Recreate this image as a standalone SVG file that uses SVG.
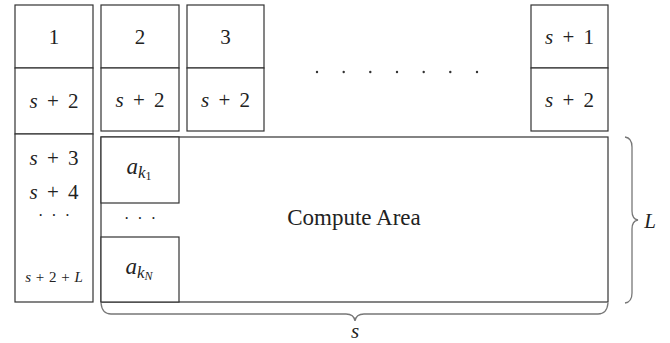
<svg xmlns="http://www.w3.org/2000/svg" width="670" height="343" viewBox="0 0 670 343">
<style>
.b{fill:#fff;stroke:#333;stroke-width:1.2}
text{font-family:"Liberation Serif","Times New Roman",serif;fill:#222}
.t{font-size:21px;text-anchor:middle;word-spacing:4px}
.i{font-style:italic}
.d{font-size:16px;text-anchor:middle;letter-spacing:2px}
.br{fill:none;stroke:#777;stroke-width:1.3}
</style>
<rect width="670" height="343" fill="#fff"/>
<g id="col1">
<rect class="b" x="15" y="5" width="78" height="63"/>
<rect class="b" x="15" y="68" width="78" height="66"/>
<rect class="b" x="15" y="134" width="78" height="168"/>
<text class="t" x="54" y="44">1</text>
<text class="t" x="54" y="108"><tspan class="i">s</tspan> + 2</text>
<text class="t" x="54" y="165"><tspan class="i">s</tspan> + 3</text>
<text class="t" x="54" y="199"><tspan class="i">s</tspan> + 4</text>
<text class="d" x="55" y="221">· · ·</text>
<text class="t" x="54" y="282" style="font-size:15px;word-spacing:1px"><tspan class="i">s</tspan> + 2 + <tspan class="i">L</tspan></text>
</g>
<g id="col2">
<rect class="b" x="101" y="5" width="78" height="63"/>
<rect class="b" x="101" y="68" width="78" height="63"/>
<text class="t" x="140" y="44">2</text>
<text class="t" x="140" y="107"><tspan class="i">s</tspan> + 2</text>
</g>
<g id="col3">
<rect class="b" x="187" y="5" width="77" height="63"/>
<rect class="b" x="187" y="68" width="77" height="63"/>
<text class="t" x="225.5" y="44">3</text>
<text class="t" x="225.5" y="107"><tspan class="i">s</tspan> + 2</text>
</g>
<g id="dots" fill="#333">
<circle cx="317" cy="72" r="1.2"/><circle cx="343.7" cy="72" r="1.2"/><circle cx="370.3" cy="72" r="1.2"/><circle cx="397" cy="72" r="1.2"/><circle cx="423.7" cy="72" r="1.2"/><circle cx="450.3" cy="72" r="1.2"/><circle cx="477" cy="72" r="1.2"/>
</g>
<g id="colS1">
<rect class="b" x="531" y="5" width="77" height="63"/>
<rect class="b" x="531" y="68" width="77" height="63"/>
<text class="t" x="569.5" y="44"><tspan class="i">s</tspan> + 1</text>
<text class="t" x="569.5" y="107"><tspan class="i">s</tspan> + 2</text>
</g>
<g id="compute">
<rect class="b" x="101" y="137" width="507" height="165"/>
<rect class="b" x="101" y="137" width="78" height="66"/>
<rect class="b" x="101" y="237" width="78" height="65"/>
<text class="t" x="354" y="225" style="font-size:23px;word-spacing:0">Compute Area</text>
<text class="t" x="139" y="174" style="font-size:23px"><tspan class="i">a</tspan><tspan class="i" font-size="17" dy="4">k</tspan><tspan font-size="12" dy="2">1</tspan></text>
<text class="d" x="141" y="224">· · ·</text>
<text class="t" x="139" y="274" style="font-size:23px"><tspan class="i">a</tspan><tspan class="i" font-size="17" dy="4">k</tspan><tspan class="i" font-size="12" dy="2">N</tspan></text>
</g>
<g id="braces">
<path class="br" d="M625,137 Q632,138 632,147 L632,211 Q632,219 638,220 Q632,221 632,229 L632,293 Q632,302 625,303"/>
<path class="br" d="M101,303 Q102,314 111,314 L346,314 Q354,314 355,321 Q356,314 364,314 L598,314 Q607,314 608,303"/>
<text class="t i" x="650" y="228">L</text>
<text class="t i" x="355" y="338">s</text>
</g>
</svg>
